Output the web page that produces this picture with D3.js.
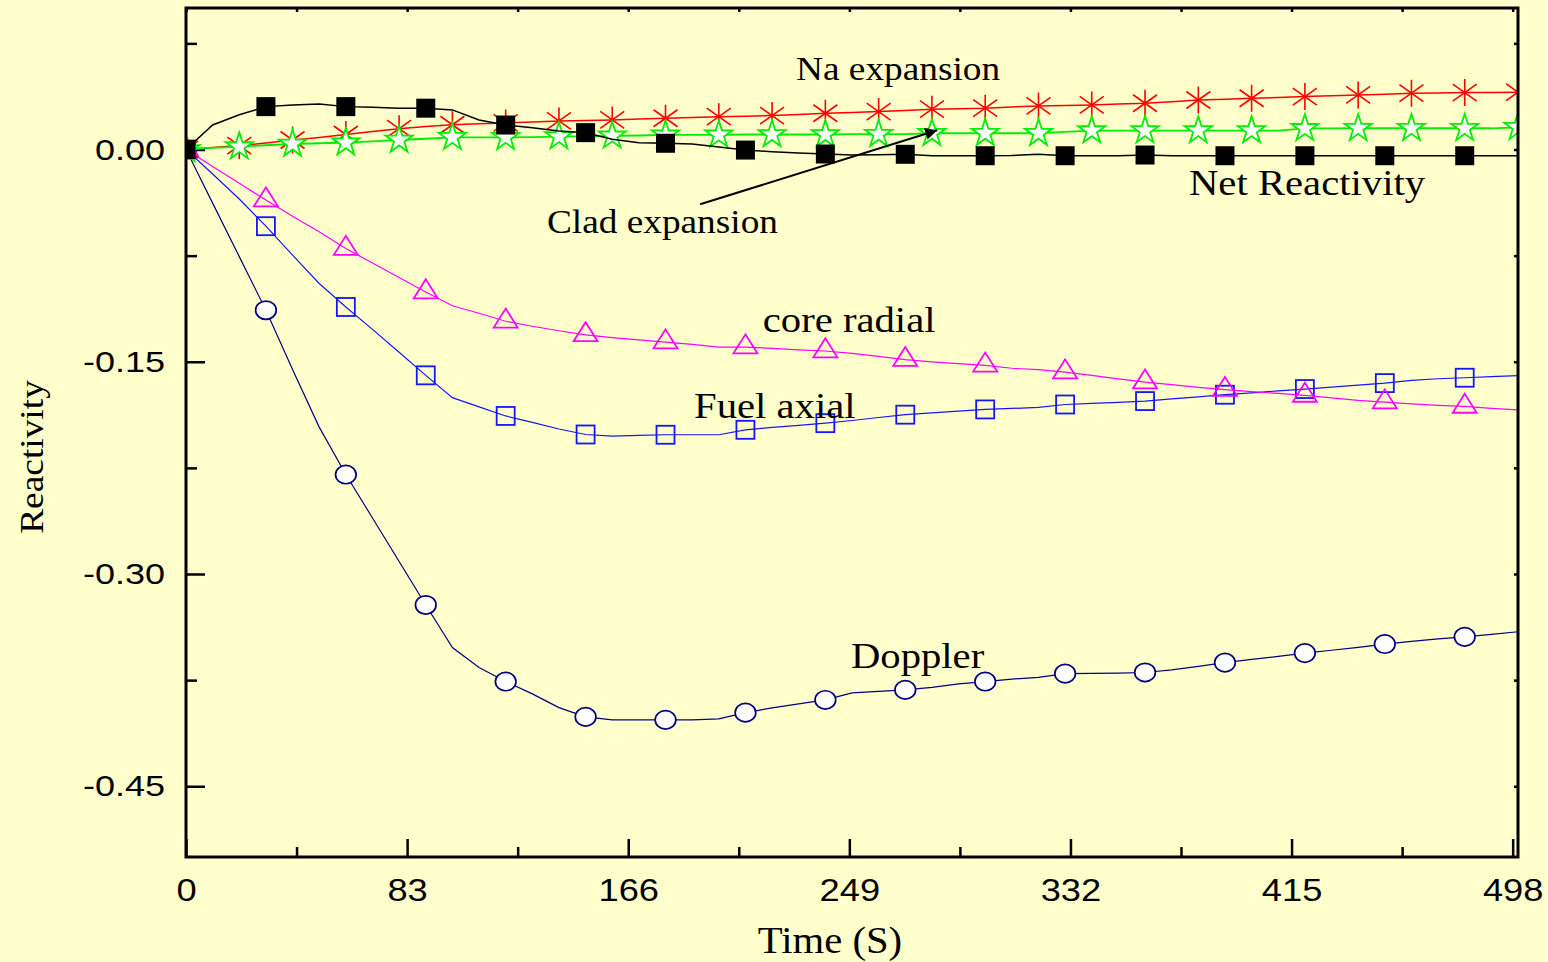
<!DOCTYPE html>
<html lang="en">
<head>
    <meta charset="UTF-8">
    <title>Reactivity vs Time</title>
    <script src="https://d3js.org/d3.v7.min.js"></script>
    <style>
        body { margin: 0; background: #ffffcc; }
        svg { display: block; }
    </style>
</head>
<body>
    <svg width="1548" height="962"></svg>

    <script>
        // time grid (s) and reactivity series
        let timeS = [0, 10, 20, 30, 40, 50, 60, 70, 80, 90, 100, 110, 120, 130, 140, 150, 160, 170, 180, 190,
            200, 210, 220, 230, 240, 250, 260, 270, 280, 290, 300, 310, 320, 330, 340, 350, 360, 370, 380, 390,
            400, 410, 420, 430, 440, 450, 460, 470, 480, 490, 500];

        let doppler = [0, -0.0379, -0.0757, -0.1136, -0.1554, -0.1962, -0.2297, -0.2604, -0.2912, -0.3219,
            -0.3520, -0.3661, -0.3760, -0.3847, -0.3944, -0.4010, -0.4031, -0.4031, -0.4031, -0.4031,
            -0.4024, -0.3980, -0.3946, -0.3918, -0.3890, -0.3840, -0.3830, -0.3819, -0.3801, -0.3777,
            -0.3760, -0.3743, -0.3730, -0.3704, -0.3702, -0.3700, -0.3696, -0.3677, -0.3653, -0.3626,
            -0.3603, -0.3582, -0.3559, -0.3539, -0.3518, -0.3495, -0.3476, -0.3458, -0.3444, -0.3426, -0.3408];

        let fuelAxial = [0, -0.0173, -0.0350, -0.0542, -0.0747, -0.0947, -0.1113, -0.1271, -0.1433, -0.1596,
            -0.1754, -0.1819, -0.1883, -0.1929, -0.1975, -0.2014, -0.2026, -0.2021, -0.2016, -0.2016,
            -0.2016, -0.1981, -0.1964, -0.1950, -0.1934, -0.1915, -0.1894, -0.1874, -0.1862, -0.1849,
            -0.1837, -0.1830, -0.1823, -0.1802, -0.1794, -0.1787, -0.1778, -0.1763, -0.1748, -0.1733,
            -0.1720, -0.1706, -0.1693, -0.1679, -0.1665, -0.1651, -0.1632, -0.1620, -0.1613, -0.1605, -0.1598];

        let coreRadial = [0, -0.0120, -0.0239, -0.0357, -0.0471, -0.0582, -0.0700, -0.0802, -0.0904, -0.1007,
            -0.1104, -0.1157, -0.1214, -0.1249, -0.1281, -0.1310, -0.1329, -0.1345, -0.1361, -0.1377,
            -0.1396, -0.1396, -0.1405, -0.1416, -0.1424, -0.1441, -0.1462, -0.1485, -0.1501, -0.1513,
            -0.1525, -0.1546, -0.1556, -0.1573, -0.1596, -0.1621, -0.1644, -0.1662, -0.1681, -0.1697,
            -0.1711, -0.1724, -0.1738, -0.1755, -0.1773, -0.1785, -0.1798, -0.1809, -0.1816, -0.1829, -0.1840];

        let naExpansion = [0, 0.0014, 0.0028, 0.0046, 0.0067, 0.0085, 0.0106, 0.0127, 0.0147, 0.0163,
            0.0175, 0.0182, 0.0188, 0.0195, 0.0202, 0.0205, 0.0209, 0.0216, 0.0221, 0.0227,
            0.0232, 0.0235, 0.0240, 0.0248, 0.0256, 0.0262, 0.0268, 0.0276, 0.0285, 0.0288,
            0.0292, 0.0301, 0.0308, 0.0311, 0.0315, 0.0321, 0.0327, 0.0338, 0.0350, 0.0356,
            0.0362, 0.0368, 0.0374, 0.0380, 0.0386, 0.0391, 0.0398, 0.0400, 0.0402, 0.0403, 0.0405];

        let cladExpansion = [0, 0.0011, 0.0020, 0.0030, 0.0039, 0.0044, 0.0048, 0.0058, 0.0067, 0.0076,
            0.0086, 0.0086, 0.0086, 0.0088, 0.0091, 0.0093, 0.0096, 0.0099, 0.0103, 0.0103,
            0.0103, 0.0106, 0.0106, 0.0106, 0.0106, 0.0108, 0.0108, 0.0108, 0.0115, 0.0115,
            0.0115, 0.0115, 0.0115, 0.0124, 0.0133, 0.0134, 0.0134, 0.0134, 0.0134, 0.0134,
            0.0134, 0.0134, 0.0149, 0.0150, 0.0150, 0.0150, 0.0150, 0.0150, 0.0150, 0.0150, 0.0157];

        let netReactivity = [0, 0.0173, 0.0245, 0.0303, 0.0315, 0.0322, 0.0303, 0.0299, 0.0292, 0.0292,
            0.0280, 0.0209, 0.0173, 0.0154, 0.0131, 0.0119, 0.0072, 0.0048, 0.0044, 0.0039,
            0.0018, -0.0004, -0.0016, -0.0025, -0.0032, -0.0039, -0.0037, -0.0034, -0.0044, -0.0044,
            -0.0044, -0.0042, -0.0034, -0.0044, -0.0044, -0.0044, -0.0039, -0.0044, -0.0044, -0.0044,
            -0.0044, -0.0044, -0.0044, -0.0044, -0.0044, -0.0044, -0.0044, -0.0044, -0.0044, -0.0044, -0.0044];

        let xTicks = [0, 83, 166, 249, 332, 415, 498];
        let xMinor = [41.5, 124.5, 207.5, 290.5, 373.5, 456.5];
        let yTicks = [0, -0.15, -0.30, -0.45];
        let yTickLabels = ["0.00", "-0.15", "-0.30", "-0.45"];
        let yMinor = [0.075, -0.075, -0.225, -0.375];

        let width = 1548, height = 962;
        let margin = { top: 8, right: 30, bottom: 105, left: 186 };

        let svg = d3.select("svg");

        let x = d3.scaleLinear()
            .domain([0, 500])
            .range([margin.left, width - margin.right]);

        let y = d3.scaleLinear()
            .domain([-0.5, 0.1])
            .range([height - margin.bottom, margin.top]);

        // text in the original is stretched sideways a bit
        function widen(sel, k) {
            sel.each(function () {
                let w = this.getComputedTextLength();
                d3.select(this).attr("textLength", w * k).attr("lengthAdjust", "spacingAndGlyphs");
            });
        }

        svg.append("defs").append("clipPath").attr("id", "plot")
            .append("rect")
            .attr("x", x(0)).attr("y", y(0.1))
            .attr("width", x(500) - x(0)).attr("height", y(-0.5) - y(0.1));

        // axes, ticks pointing inside
        let sans = "Liberation Sans, Arial, sans-serif";
        let serif = "Liberation Serif, Times New Roman, serif";

        let gx = svg.append("g")
            .attr("transform", `translate(0,${y(-0.5)})`)
            .call(d3.axisBottom(x).tickValues(xTicks).tickSize(-18).tickPadding(22).tickFormat(d3.format("d")));
        svg.append("g")
            .attr("transform", `translate(0,${y(-0.5)})`)
            .call(d3.axisBottom(x).tickValues(xMinor).tickSize(-10).tickFormat(""));

        let gy = svg.append("g")
            .attr("transform", `translate(${x(0)},0)`)
            .call(d3.axisLeft(y).tickValues(yTicks).tickSize(-19).tickPadding(21)
                .tickFormat((d, i) => yTickLabels[i]));
        svg.append("g")
            .attr("transform", `translate(${x(0)},0)`)
            .call(d3.axisLeft(y).tickValues(yMinor).tickSize(-11).tickFormat(""));

        svg.append("g")
            .attr("transform", `translate(0,${y(0.1)})`)
            .call(d3.axisTop(x).tickValues(xTicks.concat(xMinor)).tickSize(-4).tickFormat(""));
        svg.append("g")
            .attr("transform", `translate(${x(500)},0)`)
            .call(d3.axisRight(y).tickValues(yTicks.concat(yMinor)).tickSize(-4).tickFormat(""));

        svg.selectAll(".domain").remove();
        svg.selectAll(".tick line").attr("stroke", "#000").attr("stroke-width", 2.5);

        gx.selectAll("text")
            .attr("font-family", sans).attr("font-size", 31).attr("fill", "#000")
            .call(widen, 1.17);
        gy.selectAll("text")
            .attr("font-family", sans).attr("font-size", 30).attr("fill", "#000")
            .call(widen, 1.2);

        // series
        let series = [
            { name: "Doppler", values: doppler, color: "#000080", width: 1.2, shape: "circle", every: 3 },
            { name: "Fuel axial", values: fuelAxial, color: "#1515ff", width: 1.2, shape: "square", every: 3 },
            { name: "core radial", values: coreRadial, color: "#ff00ff", width: 1.2, shape: "triangle", every: 3 },
            { name: "Na expansion", values: naExpansion, color: "#ff0000", width: 1.5, shape: "asterisk", every: 2 },
            { name: "Clad expansion", values: cladExpansion, color: "#00ee00", width: 1.8, shape: "star", every: 2 },
            { name: "Net Reactivity", values: netReactivity, color: "#000000", width: 1.5, shape: "filled", every: 3 }
        ];

        let line = d3.line()
            .x(d => x(d.t))
            .y(d => y(d.v));

        let plot = svg.append("g").attr("clip-path", "url(#plot)");

        let starPath = d3.symbol().type(d3.symbolStar).size(230)();
        let triPath = "M0,-12.7L12,6.3L-12,6.3Z";
        let asteriskPath = "M0,-13.5V13.5M-12,-8.5L12,8.5M-12,8.5L12,-8.5";

        series.forEach(s => {
            let pts = timeS.map((t, i) => ({ t: t, v: s.values[i], i: i }));
            let g = plot.append("g");

            g.append("path")
                .datum(pts)
                .attr("fill", "none")
                .attr("stroke", s.color)
                .attr("stroke-width", s.width)
                .attr("d", line);

            let marks = g.selectAll(".mark")
                .data(pts.filter(d => d.i % s.every === 0))
                .enter().append("g")
                .attr("transform", d => `translate(${x(d.t)},${y(d.v)})`);

            if (s.shape === "circle") {
                marks.append("ellipse").attr("rx", 10.3).attr("ry", 9.2)
                    .attr("fill", "#fff").attr("stroke", s.color).attr("stroke-width", 1.7);
            } else if (s.shape === "square") {
                marks.append("rect").attr("x", -9).attr("y", -9).attr("width", 18).attr("height", 18)
                    .attr("fill", "none").attr("stroke", s.color).attr("stroke-width", 1.8);
            } else if (s.shape === "triangle") {
                marks.append("path").attr("d", triPath)
                    .attr("fill", "none").attr("stroke", s.color).attr("stroke-width", 1.8);
            } else if (s.shape === "asterisk") {
                marks.append("path").attr("d", asteriskPath)
                    .attr("fill", "none").attr("stroke", s.color).attr("stroke-width", 1.6);
            } else if (s.shape === "star") {
                marks.append("path").attr("d", starPath)
                    .attr("fill", "#fff").attr("stroke", s.color).attr("stroke-width", 1.8);
            } else {
                marks.append("rect").attr("x", -9.5).attr("y", -9.5).attr("width", 19).attr("height", 19)
                    .attr("fill", s.color);
            }
        });

        // frame
        svg.append("rect")
            .attr("x", x(0)).attr("y", y(0.1))
            .attr("width", x(500) - x(0)).attr("height", y(-0.5) - y(0.1))
            .attr("fill", "none").attr("stroke", "#000").attr("stroke-width", 3);

        // annotations (data coords of left end / baseline)
        let notes = [
            { text: "Na expansion", t: 229, v: 0.049, size: 33 },
            { text: "Clad expansion", t: 135.5, v: -0.0592, size: 33 },
            { text: "Net Reactivity", t: 376.5, v: -0.0323, size: 36 },
            { text: "core radial", t: 216.5, v: -0.1293, size: 36 },
            { text: "Fuel axial", t: 190.7, v: -0.1894, size: 36 },
            { text: "Doppler", t: 249.6, v: -0.3663, size: 36 }
        ];

        svg.selectAll(".note")
            .data(notes)
            .enter().append("text")
            .attr("x", d => x(d.t))
            .attr("y", d => y(d.v))
            .attr("font-family", serif)
            .attr("font-size", d => d.size)
            .attr("fill", "#000")
            .text(d => d.text)
            .call(widen, 1.13);

        // arrow to the clad expansion curve
        svg.append("defs").append("marker")
            .attr("id", "head")
            .attr("viewBox", "0 0 10 10")
            .attr("refX", 10).attr("refY", 5)
            .attr("markerWidth", 13).attr("markerHeight", 6)
            .attr("markerUnits", "strokeWidth")
            .attr("orient", "auto")
            .append("path").attr("d", "M0,0L10,5L0,10Z").attr("fill", "#000");

        svg.append("line")
            .attr("x1", x(193)).attr("y1", y(-0.0387))
            .attr("x2", x(282)).attr("y2", y(0.0136))
            .attr("stroke", "#000").attr("stroke-width", 2)
            .attr("marker-end", "url(#head)");

        // axis titles
        svg.append("text")
            .attr("x", 830).attr("y", 953)
            .attr("text-anchor", "middle")
            .attr("font-family", serif).attr("font-size", 37)
            .text("Time (S)")
            .call(widen, 1.1);

        svg.append("text")
            .attr("transform", "translate(43,457) rotate(-90)")
            .attr("text-anchor", "middle")
            .attr("font-family", serif).attr("font-size", 34)
            .text("Reactivity")
            .call(widen, 1.1);
    </script>
</body>
</html>
